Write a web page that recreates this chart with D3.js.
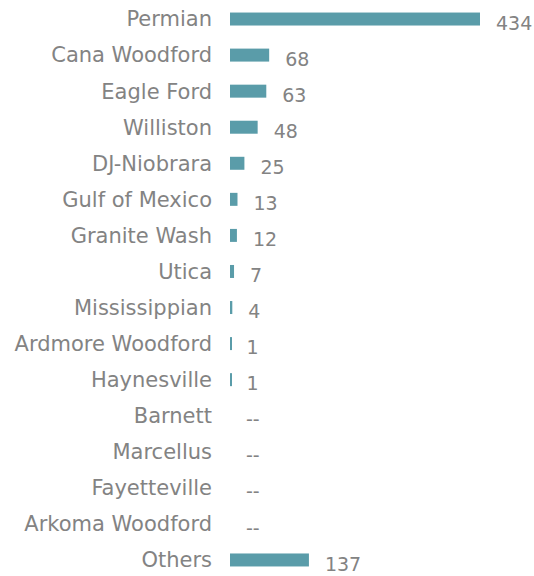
<!DOCTYPE html>
<html>
<head>
<meta charset="utf-8">
<script src="https://cdn.jsdelivr.net/npm/d3@7"></script>
<style>
  body { margin: 0; background: #fff; }
  text { font-family: "DejaVu Sans", sans-serif; fill: #838383; }
</style>
</head>
<body>
<svg id="barChart" width="534" height="576"></svg>
<script>
const basins = ["Permian", "Cana Woodford", "Eagle Ford", "Williston", "DJ-Niobrara",
  "Gulf of Mexico", "Granite Wash", "Utica", "Mississippian", "Ardmore Woodford",
  "Haynesville", "Barnett", "Marcellus", "Fayetteville", "Arkoma Woodford", "Others"];
const counts = [434, 68, 63, 48, 25, 13, 12, 7, 4, 1, 1, null, null, null, null, 137];

const rows = basins.map((name, i) => ({ name, value: counts[i] }));

const svg = d3.select("#barChart");

const x = d3.scaleLinear().domain([0, 434]).range([230, 480]);
const y = d3.scaleBand().domain(basins).range([1, 578]).paddingInner(0.64).paddingOuter(0.32);

svg.append("g")
  .selectAll("rect")
  .data(rows.filter(d => d.value))
  .join("rect")
  .attr("x", x(0))
  .attr("y", d => y(d.name))
  .attr("width", d => Math.max(2, x(d.value) - x(0)))
  .attr("height", y.bandwidth())
  .style("fill", "#5a9ca9");

// category labels
svg.append("g")
  .selectAll("text")
  .data(rows)
  .join("text")
  .attr("x", 212)
  .attr("y", d => y(d.name) + y.bandwidth() / 2)
  .attr("dy", "0.35em")
  .attr("text-anchor", "end")
  .style("font-size", "21px")
  .text(d => d.name);

// value labels, sitting a bit lower than the bars
svg.append("g")
  .selectAll("text")
  .data(rows)
  .join("text")
  .attr("x", d => x(d.value || 0) + 16)
  .attr("y", d => y(d.name) + y.bandwidth() / 2 + 4)
  .attr("dy", "0.35em")
  .style("font-size", "19px")
  .text(d => d.value ? d.value : "--");
</script>
</body>
</html>
